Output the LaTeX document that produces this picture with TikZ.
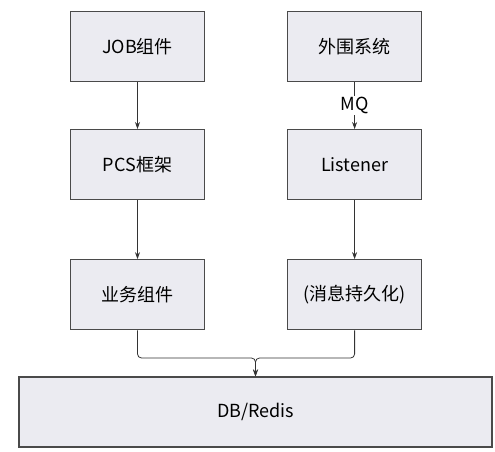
\documentclass[tikz,border=0pt]{standalone}
\usepackage{fontspec}
\setmainfont{Noto Sans CJK SC}
\usetikzlibrary{positioning,arrows.meta}
\definecolor{boxfill}{HTML}{EBEBF1}
\definecolor{boxline}{HTML}{4A4A4A}
\begin{document}
\begin{tikzpicture} [
   x=1pt, y=-1pt, node distance=47pt, font=\fontsize{18}{20}\selectfont,
   box/.style={draw=boxline, line width=1.1pt, fill=boxfill,
               minimum width=134pt, minimum height=70pt, inner sep=0pt},
   link/.style={draw=black!80, line width=0.8pt, -{Stealth[length=7pt,width=5pt]}}
]
   \useasboundingbox (0,0) rectangle (495,452);
   % left column
   \node (job) [box] at (137.5,46.5) {JOB组件};
   \node (pcs) [box, below=of job] {PCS框架};
   \node (biz) [box, below=59pt of pcs] {业务组件};
   % right column
   \node (ext) [box, right=82pt of job] {外围系统};
   \node (lsn) [box, below=of ext] {Listener};
   \node (per) [box, below=59pt of lsn] {(消息持久化)};
   % store
   \node (db) [box, minimum width=473pt] at (255.5,412) {DB/Redis};
   \coordinate (m) at (255.5,358);
   \path (job) edge [link] (pcs)
         (pcs) edge [link] (biz)
         (ext) edge [link] node [fill=white, inner sep=1pt] {MQ} (lsn)
         (lsn) edge [link] (per);
   \draw [link, rounded corners=4pt] (biz.south) |- (m) -- (db.north);
   \draw [link, rounded corners=4pt] (per.south) |- (m) -- (db.north);
\end{tikzpicture}
\end{document}
